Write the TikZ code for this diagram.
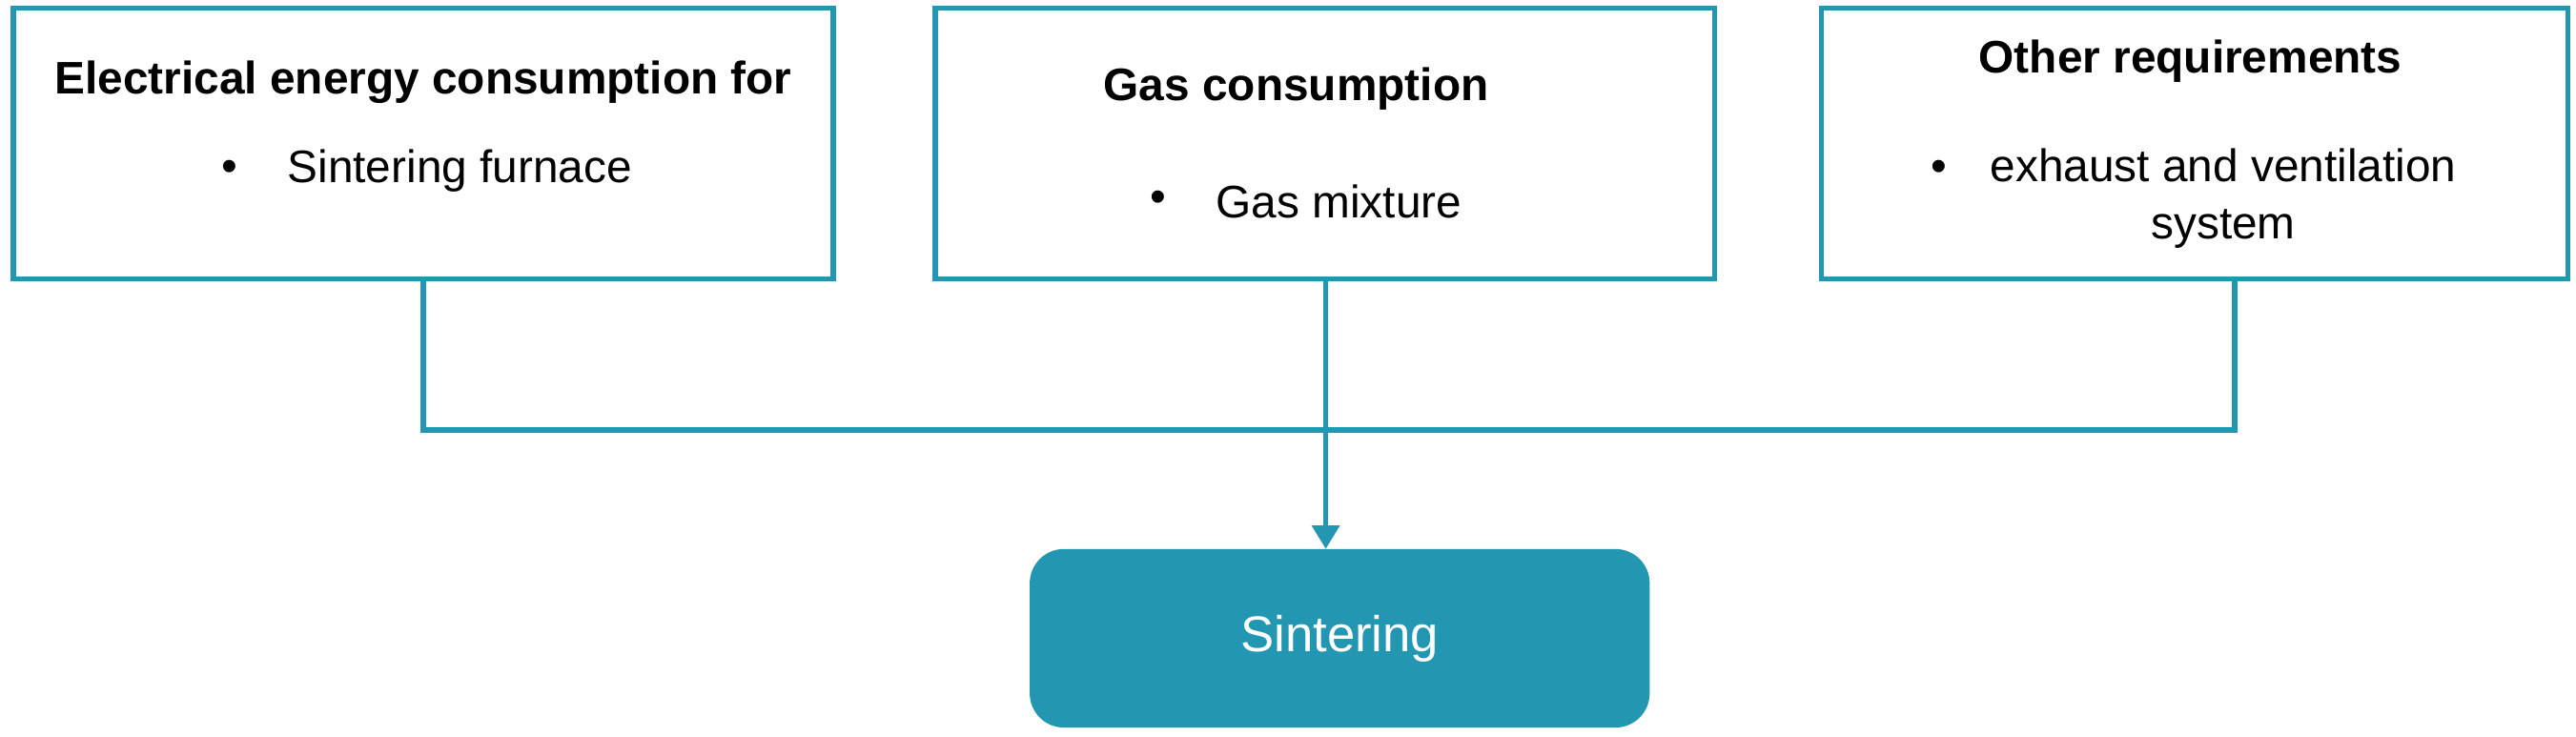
\documentclass[tikz,border=0pt]{standalone}
\usepackage{fontspec}
\setmainfont{Liberation Sans}
\usetikzlibrary{arrows.meta}
\definecolor{teal1}{HTML}{2397B1}
\begin{document}
\begin{tikzpicture}[x=0.01721cm,y=-0.01721cm,
  box/.style={draw=teal1,line width=1.6pt},
  conn/.style={draw=teal1,line width=1.6pt},
  title/.style={font=\fontsize{13.6}{16}\selectfont\bfseries},
  txt/.style={font=\fontsize{13.6}{17}\selectfont}]
\useasboundingbox (0,0) rectangle (1570,449);
\draw[box] (8,5) rectangle (508,170);
\draw[box] (570,5) rectangle (1045,170);
\draw[box] (1110,5) rectangle (1565,170);
\coordinate (b1) at (258,170);
\coordinate (b2) at (808,170);
\coordinate (b3) at (1362,170);
\coordinate (j1) at (258,262);
\coordinate (j3) at (1362,262);
\node[title] (t1) at (258,50) {Electrical energy consumption for};
\node[txt] (d1) at (140,104) {•};
\node[txt,anchor=west] (e1) at (168,104) {Sintering furnace};
\node[title] (t2) at (790,54) {Gas consumption};
\node[txt] (d2) at (706,123) {•};
\node[txt,anchor=west] (e2) at (734,123) {Gas mixture};
\node[title] (t3) at (1335,37) {Other requirements};
\node[txt] (d3) at (1182,104) {•};
\node[txt,align=center] (e3) at (1355,121) {exhaust and ventilation\\system};
\node[draw=teal1,fill=teal1,rounded corners=10pt,minimum width=377*0.01721cm,minimum height=108*0.01721cm,text=white,font=\fontsize{15}{18}\selectfont] (s) at (816.5,389) {Sintering};
\draw[conn] (b1) -- (j1) -- (j3) -- (b3);
\draw[conn,-{Triangle[length=7pt,width=8pt]}] (b2) -- (b2 |- s.north);
\end{tikzpicture}
\end{document}
